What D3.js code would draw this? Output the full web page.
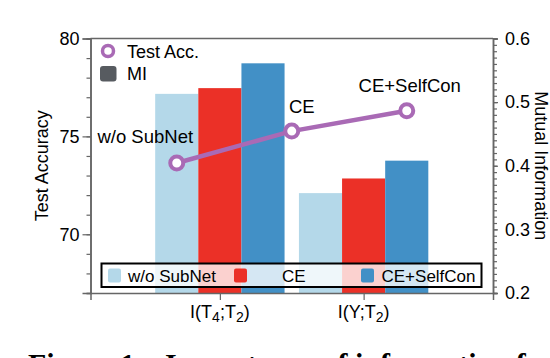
<!DOCTYPE html>
<html>
<head>
<meta charset="utf-8">
<script src="https://cdn.jsdelivr.net/npm/d3@7"></script>
<style>
  body { margin: 0; background: #fff; }
  svg { display: block; font-family: "Liberation Sans", Arial, sans-serif; }
</style>
</head>
<body>
<svg id="chart" width="550" height="358"></svg>
<script>
// categories on the x axis (underscore marks a subscript)
const categories = ['I(T_4;T_2)', 'I(Y;T_2)'];
const methods = ['w/o SubNet', 'CE', 'CE+SelfCon'];

// mutual information (bars, right axis), one array per method
const miWoSubNet = [0.513, 0.357];
const miCE = [0.522, 0.380];
const miSelfCon = [0.561, 0.408];

// test accuracy (line, left axis) and its x positions in category units
const testAcc = [73.64, 75.27, 76.31];
const accX = [-0.3, 0.5, 1.3];

// tick labels
const accTicks = [70, 75, 80];
const miTicks = [0.2, 0.3, 0.4, 0.5, 0.6];

const colors = ['#b4d8e9', '#eb3027', '#4290c6'];
const lineColor = '#a96ab5';
const axisColor = '#666';

const svg = d3.select('#chart');
const m = { left: 90.5, right: 493, top: 38.5, bottom: 293 };

const x = d3.scaleLinear().domain([-0.9, 1.9]).range([m.left, m.right]);
const yAcc = d3.scaleLinear().domain([67, 80]).range([m.bottom, m.top]);
const yMI = d3.scaleLinear().domain([0.2, 0.6]).range([m.bottom, m.top]);

// bars
const barW = 0.3;
const miSeries = [miWoSubNet, miCE, miSelfCon];
const barData = [];
miSeries.forEach((vals, j) => {
  vals.forEach((v, i) => barData.push({ i, j, v }));
});

svg.append('g').attr('class', 'bars')
  .selectAll('rect')
  .data(barData)
  .join('rect')
  .attr('x', d => x(d.i + (d.j - 1) * barW - barW / 2))
  .attr('width', d => x(barW) - x(0))
  .attr('y', d => yMI(d.v))
  .attr('height', d => yMI(0.2) - yMI(d.v))
  .attr('fill', d => colors[d.j]);

// frame top line
svg.append('line')
  .attr('x1', m.left).attr('x2', m.right).attr('y1', m.top).attr('y2', m.top)
  .attr('stroke', axisColor).attr('stroke-width', 1.5);

// left axis (major + minor)
const leftG = svg.append('g').attr('transform', `translate(${m.left},0)`);
leftG.append('g')
  .call(d3.axisLeft(yAcc).tickValues(d3.range(67, 81)).tickSize(4).tickFormat(''));
leftG.append('g')
  .call(d3.axisLeft(yAcc).tickValues(accTicks).tickSize(8).tickPadding(3).tickFormat(d3.format('d')));

// right axis (major + minor)
const rightG = svg.append('g').attr('transform', `translate(${m.right},0)`);
rightG.append('g')
  .call(d3.axisRight(yMI).tickValues(d3.range(20, 61).map(d => d / 100)).tickSize(4).tickFormat(''));
rightG.append('g')
  .call(d3.axisRight(yMI).tickValues(miTicks).tickSize(5).tickPadding(7).tickFormat(d3.format('.1f')));

// bottom axis
const bottomG = svg.append('g').attr('transform', `translate(0,${m.bottom})`);
bottomG.call(d3.axisBottom(x).tickValues([0, 1]).tickSize(7).tickFormat(''));

svg.selectAll('.domain').attr('stroke', axisColor).attr('stroke-width', 1.5);
svg.selectAll('.tick line').attr('stroke', axisColor).attr('stroke-width', 1.2);
svg.selectAll('.tick text').filter(function() { return this.textContent === ''; }).remove();
svg.selectAll('.tick text').attr('fill', '#000').style('font-size', '18px')
  .style('font-family', '"Liberation Sans", Arial, sans-serif');

// category labels with subscripts
categories.forEach((c, i) => {
  const t = svg.append('text')
    .attr('x', x(i))
    .attr('y', 318)
    .attr('text-anchor', 'middle')
    .style('font-size', '18px');
  let shift = 0;
  c.split(/(_\d)/).filter(s => s).forEach(part => {
    if (part[0] === '_') {
      t.append('tspan').attr('dy', 4 - shift).style('font-size', '14px').text(part.slice(1));
      shift = 4;
    } else {
      t.append('tspan').attr('dy', -shift).text(part);
      shift = 0;
    }
  });
});

// axis titles
svg.append('text')
  .attr('transform', `translate(48,${(m.top + m.bottom) / 2}) rotate(-90)`)
  .attr('text-anchor', 'middle')
  .style('font-size', '18px')
  .text('Test Accuracy');
svg.append('text')
  .attr('transform', `translate(534.5,${(m.top + m.bottom) / 2}) rotate(90)`)
  .attr('text-anchor', 'middle')
  .style('font-size', '18px')
  .text('Mutual Information');

// test accuracy line
const accData = testAcc.map((v, k) => ({ x: accX[k], v, name: methods[k] }));
svg.append('path')
  .datum(accData)
  .attr('fill', 'none')
  .attr('stroke', lineColor)
  .attr('stroke-width', 4.5)
  .attr('d', d3.line().x(d => x(d.x)).y(d => yAcc(d.v)));
svg.append('g').selectAll('circle')
  .data(accData)
  .join('circle')
  .attr('cx', d => x(d.x))
  .attr('cy', d => yAcc(d.v))
  .attr('r', 6.5)
  .attr('fill', '#fff')
  .attr('stroke', lineColor)
  .attr('stroke-width', 4);

// point labels
const labelOffsets = [[-31.5, -20], [10, -18], [3, -19]];
svg.append('g').selectAll('text')
  .data(accData)
  .join('text')
  .attr('x', (d, k) => x(d.x) + labelOffsets[k][0])
  .attr('y', (d, k) => yAcc(d.v) + labelOffsets[k][1])
  .attr('text-anchor', 'middle')
  .style('font-size', '18.5px')
  .text(d => d.name);

// top-left legend
svg.append('circle').attr('cx', 108).attr('cy', 51).attr('r', 5.5)
  .attr('fill', '#fff').attr('stroke', lineColor).attr('stroke-width', 3.5);
svg.append('text').attr('x', 127).attr('y', 57.5).style('font-size', '18px').text('Test Acc.');
svg.append('rect').attr('x', 100).attr('y', 66).attr('width', 16.5).attr('height', 15.5)
  .attr('rx', 3).attr('fill', '#575b60');
svg.append('text').attr('x', 127).attr('y', 80).style('font-size', '18px').text('MI');

// bottom legend
const lg = svg.append('g');
lg.append('rect').attr('x', 101.5).attr('y', 263.5).attr('width', 380).attr('height', 23.5)
  .attr('fill', 'rgba(255,255,255,0.78)').attr('stroke', '#000').attr('stroke-width', 2);
const legX = [108, 234, 361];
const legTextX = [128, 282, 381.5];
methods.forEach((name, j) => {
  lg.append('rect').attr('x', legX[j]).attr('y', 268.5).attr('width', 13).attr('height', 14)
    .attr('rx', 2).attr('fill', colors[j]);
  lg.append('text').attr('x', legTextX[j]).attr('y', 281.5).style('font-size', '17px').text(name);
});

// caption fragment below the figure (cropped by the page edge, as in the source)
const cap = svg.append('g').style('font-family', '"Liberation Serif", "Times New Roman", serif')
  .style('font-weight', 'bold').style('font-size', '30px');
cap.append('text').attr('x', 28).attr('y', 374).text('Figure 1:');
cap.append('text').attr('x', 165).attr('y', 374).text('Importance of information for');
</script>
</body>
</html>
